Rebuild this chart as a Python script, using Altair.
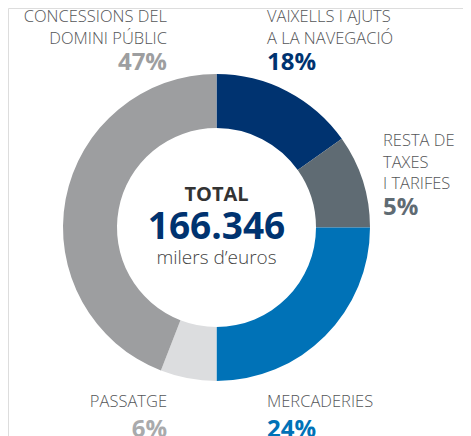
import altair as alt
import pandas as pd

# ---- data ----
categories = ["VAIXELLS I AJUTS A LA NAVEGACIÓ", "RESTA DE TAXES I TARIFES",
              "MERCADERIES", "PASSATGE", "CONCESSIONS DEL DOMINI PÚBLIC"]
arc_share = [15.2, 9.8, 25.0, 5.9, 44.1]          # share of the ring as drawn
pct_labels = ["18%", "5%", "24%", "6%", "47%"]    # printed percentages
name_lines = [["VAIXELLS I AJUTS", "A LA NAVEGACIÓ"],
              ["RESTA DE", "TAXES", "I TARIFES"],
              ["MERCADERIES"],
              ["PASSATGE"],
              ["CONCESSIONS DEL", "DOMINI PÚBLIC"]]
total_title = "TOTAL"
total_value = "166.346"
total_unit = "milers d\u2019euros"

# ---- styles ----
colors = ["#003370", "#5f6b73", "#0072b7", "#dcdddf", "#9d9ea0"]
pct_colors = ["#003370", "#5f6b73", "#0072b7", "#a9aaac", "#9d9ea0"]
FONT = "Open Sans"
W, H = 455, 428
CX, CY = 208.5, 219.5

df = pd.DataFrame({"category": categories, "share": arc_share,
                   "idx": list(range(len(categories)))})

ring = alt.Chart(df).mark_arc(innerRadius=99.5, outerRadius=153.5, stroke=None).encode(
    theta=alt.Theta("share:Q", stack=True),
    order=alt.Order("idx:Q"),
    color=alt.Color("category:N", scale=alt.Scale(domain=categories, range=colors), legend=None),
    x=alt.value(CX), y=alt.value(CY),
)

# label layout: (x, align, name baseline, pct baseline)
layout = [(259, "left", 14, 62),
          (375, "left", 138, 207),
          (259, "left", 399, 429),
          (159, "right", 399, 429),
          (159, "right", 14, 62)]

one = pd.DataFrame({"a": [0]})
layers = [ring]
for i, (lx, al, ny, py) in enumerate(layout):
    layers.append(alt.Chart(one).mark_text(
        font=FONT, fontSize=16.5, fontWeight=300, color="#555658", align=al,
        baseline="alphabetic", lineHeight=21.5).encode(
        x=alt.value(lx), y=alt.value(ny), text=alt.value(name_lines[i])))
    layers.append(alt.Chart(one).mark_text(
        font=FONT, fontSize=24, fontWeight="bold", color=pct_colors[i], align=al,
        baseline="alphabetic").encode(
        x=alt.value(lx), y=alt.value(py), text=alt.value(pct_labels[i])))

layers.append(alt.Chart(one).mark_text(
    font=FONT, fontSize=20, fontWeight="bold", color="#333333", align="center",
    baseline="alphabetic").encode(x=alt.value(CX), y=alt.value(193), text=alt.value(total_title)))
layers.append(alt.Chart(one).mark_text(
    font=FONT, fontSize=37, fontWeight="bold", color="#003370", align="center",
    baseline="alphabetic").encode(x=alt.value(CX), y=alt.value(231), text=alt.value(total_value)))
layers.append(alt.Chart(one).mark_text(
    font=FONT, fontSize=19, fontWeight=300, color="#444444", align="center",
    baseline="alphabetic").encode(x=alt.value(CX), y=alt.value(256), text=alt.value(total_unit)))

chart = alt.layer(*layers).properties(
    width=W, height=H, padding=0, autosize=alt.AutoSizeParams(type="none")
).configure_view(stroke=None).configure(background="white")

chart.save("out.html", embed_options={"renderer": "svg", "actions": False})
